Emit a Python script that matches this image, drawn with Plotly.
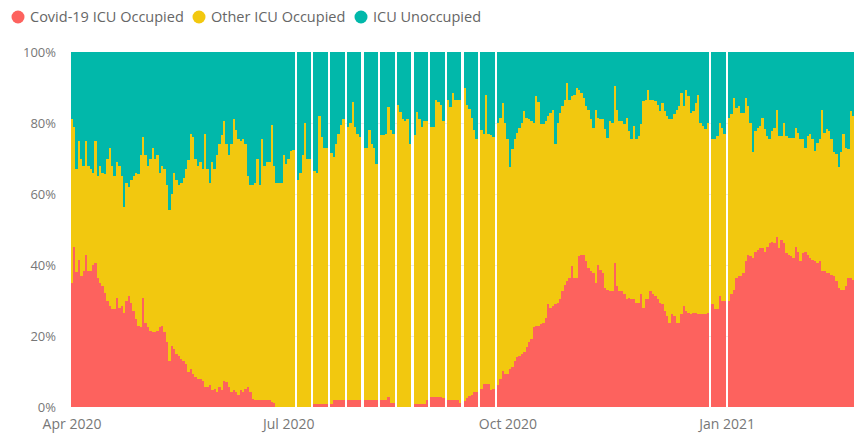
import pandas as pd
import plotly.graph_objects as go

# Daily ICU bed use, 1 Apr 2020 - 23 Feb 2021, as % of all ICU beds.
# None marks days with no report (Saturdays over the summer, 25 Dec, 1 Jan).
start_date = "2020-04-01"

# % of ICU beds occupied by Covid-19 patients
covid_pct = [
    # Apr
    34.9, 45.2, 38.0, 41.4, 36.8, 38.2, 42.8, 38.2, 38.2, 40.0, 40.5, 36.3, 34.9, 34.0, 32.1,
    29.8, 28.4, 27.5, 27.5, 30.7, 27.9, 28.4, 26.5, 29.8, 31.2, 29.3, 27.0, 24.7, 22.8, 22.4,
    # May
    30.7, 23.7, 22.4, 21.4, 21.0, 21.0, 21.4, 22.4, 22.8, 21.0, 18.2, 13.0, 17.2, 16.3, 14.9,
    14.4, 13.5, 13.0, 12.1, 9.8, 10.7, 9.3, 8.4, 7.9, 7.9, 7.4, 5.6, 5.6, 6.1, 4.7, 5.1,
    # Jun
    4.2, 5.6, 4.7, 7.4, 7.0, 5.6, 4.2, 4.7, 4.2, 3.3, 4.7, 4.2, 5.1, 5.6, 4.2,
    2.3, 1.9, 1.9, 1.9, 1.9, 1.9, 1.9, 1.9, 1.5, 1.0, 0.0, 0.0, 0.0, 0.0, 0.0,
    # Jul
    0.0, 0.0, 0.0, None, 0.0, 0.0, 0.0, 0.0, 0.0, 0.0, None, 0.75, 0.75, 0.75, 0.75, 0.75,
    0.75, None, 0.8, 1.9, 1.9, 1.9, 1.9, 1.9, None, 1.9, 1.9, 1.9, 1.9, 1.9, 1.9,
    # Aug
    None, 1.9, 1.9, 1.9, 1.9, 1.9, 1.9, None, 1.9, 1.9, 1.9, 2.8, 1.0, 1.0, None, 0.0,
    0.0, 0.0, 0.0, 0.0, 0.0, None, 0.75, 0.75, 0.75, 0.75, 0.75, 1.9, None, 2.8, 2.8,
    # Sep
    2.8, 2.8, 2.8, 2.5, None, 1.9, 1.9, 1.9, 1.9, 1.9, 1.0, None, 1.6, 2.5, 3.0,
    3.4, 4.1, 4.2, None, 5.1, 6.5, 6.5, 6.5, 4.7, 5.1, None, 6.1, 7.9, 10.2, 9.3,
    # Oct
    9.3, 10.7, 11.2, 13.0, 14.0, 14.4, 14.9, 15.4, 16.8, 18.2, 19.1, 22.4, 22.8, 22.8, 23.3,
    23.7, 25.1, 28.9, 27.9, 28.4, 28.9, 29.3, 30.3, 32.6, 34.5, 35.4, 36.3, 39.6, 36.3, 36.3, 42.4,
    # Nov
    42.8, 42.8, 41.0, 39.1, 38.2, 37.7, 34.9, 40.0, 38.6, 37.7, 33.5, 33.1, 32.6, 32.6, 40.5,
    34.0, 32.6, 32.6, 31.7, 30.3, 30.7, 30.3, 30.3, 29.3, 29.3, 31.7, 27.9, 30.3, 30.3, 32.6,
    # Dec
    31.7, 31.2, 30.3, 29.3, 28.9, 27.0, 25.6, 23.7, 26.1, 25.6, 23.7, 23.7, 26.1, 28.4, 27.0,
    26.5, 26.1, 26.5, 26.5, 26.1, 26.1, 26.1, 26.1, 26.5, None, 28.9, 27.5, 27.5, 31.2, 29.8, 29.8,
    # Jan
    None, 29.8, 31.7, 33.1, 36.3, 36.8, 36.8, 37.7, 41.0, 42.8, 42.4, 41.9, 43.8, 44.2, 44.7,
    44.7, 43.8, 45.2, 46.1, 46.6, 46.1, 48.0, 44.7, 47.0, 46.1, 43.3, 42.8, 42.4, 41.9, 45.2, 43.8,
    # Feb
    41.0, 43.3, 43.8, 42.8, 41.9, 41.4, 41.0, 40.5, 41.0, 38.2, 38.2, 37.7, 37.7, 37.2, 36.8,
    35.4, 33.5, 33.1, 33.1, 34.0, 36.3, 36.3, 35.9,
]

# % of ICU beds occupied by any patient (Covid-19 + other)
occupied_pct = [
    # Apr
    81, 79, 67, 75, 70, 68, 75, 68, 67, 66, 75, 65, 68, 66, 65.5,
    70, 73, 68, 65, 69, 68, 65, 56.3, 63, 62, 64, 65, 66, 65.5, 71,
    # May
    76, 71, 68, 70, 73, 70, 71, 66, 68, 67, 62.5, 55.4, 60, 66, 64,
    62.5, 63, 64.5, 67, 69.6, 77, 76, 70, 68, 69, 67, 77, 67, 63, 69, 67,
    # Jun
    71, 74, 76.5, 80.5, 74, 71, 74, 81, 78, 75.5, 75, 75.5, 74, 65, 62.5,
    62.5, 63, 70, 62.5, 75.5, 68, 69, 69, 79.5, 68, 63, 63, 63, 71, 68.5,
    # Jul
    70, 72, 72.5, None, 64, 66, 71, 80, 70, 70, None, 66.5, 66, 82, 76, 73,
    73, None, 71.5, 70.5, 74, 77, 79.5, 81, None, 79, 80, 86, 79, 77, 76,
    # Aug
    None, 73, 73, 78, 74, 73, 68.5, None, 76.5, 76.5, 77, 84.5, 78, 77, None, 85,
    83, 81, 80.5, 81, 74, None, 76.5, 83, 81, 79, 80.5, 80.5, None, 79, 79,
    # Sep
    86.5, 86, 85, 80.5, None, 86.5, 84.5, 88.5, 86.5, 86.5, 86.5, None, 90, 85, 84,
    81.5, 78, 75.5, None, 78, 77, 88, 77, 76.5, 76, None, 80, 81.5, 85.5, 80,
    # Oct
    75.4, 67.5, 72.6, 75.4, 77.3, 78.7, 80.1, 83.3, 81.5, 81, 80.5, 80, 87.5, 86, 79.6,
    79.6, 80.5, 81.9, 82.9, 83.8, 74, 80, 82.9, 84.7, 86.6, 91.3, 86.6, 87.5, 88, 89.8, 89.4,
    # Nov
    88.5, 87, 84.7, 83.8, 81, 78.7, 83.8, 81.5, 81, 81, 78.2, 75.9, 80.5, 80, 90.3,
    83.8, 80.5, 80.5, 79.6, 81.5, 77.7, 75.4, 79.1, 75.4, 76.3, 79.6, 86.1, 86.6, 89.4, 86.6,
    # Dec
    86.6, 86.1, 85.2, 83.3, 85.7, 83.3, 81.9, 81, 81, 82.4, 83.8, 84.7, 88.5, 84.7, 89.4,
    87.5, 82.9, 83.3, 85.7, 88, 80.1, 79.1, 78.2, 80.1, None, 75.4, 75.4, 76.3, 80.1, 78.7, 76.8,
    # Jan
    None, 81.5, 82.4, 87, 84.3, 84.7, 82.9, 82.9, 87, 84.7, 80.1, 71.7, 77.7, 78.7, 79.1,
    81.5, 78.2, 76.3, 75.4, 77.7, 78.7, 83.8, 76.3, 76.3, 80.1, 76.3, 75.9, 75.9, 75.9, 78.7, 77.3,
    # Feb
    75.4, 75.4, 73.1, 76.3, 76.8, 75.4, 72.2, 74.5, 75.4, 83.8, 77.3, 78.2, 77.7, 75.4, 71.7,
    71.2, 67.5, 71.7, 76.8, 73.1, 72.6, 83.3, 81.9,
]

series_names = ["Covid-19 ICU Occupied", "Other ICU Occupied", "ICU Unoccupied"]
series_colors = ["#FD625E", "#F2C80F", "#01B8AA"]

x_tick_dates = ["2020-04-01", "2020-07-01", "2020-10-01", "2021-01-01"]
x_tick_labels = ["Apr 2020", "Jul 2020", "Oct 2020", "Jan 2021"]
y_tick_values = [0, 20, 40, 60, 80, 100]
y_tick_labels = [f"{v}%" for v in y_tick_values]

# Build the table of reported days and the three stacked shares
dates = pd.date_range(start_date, periods=len(covid_pct), freq="D")
df = pd.DataFrame({"date": dates, "covid": covid_pct, "occupied": occupied_pct}).dropna()
df["other"] = df["occupied"] - df["covid"]
df["unoccupied"] = 100 - df["occupied"]

DAY_MS = 86400000
bar_width = 0.82 * DAY_MS
font_family = "Segoe UI, Open Sans, sans-serif"

W, H = 854, 435
M_L, M_R, M_T, M_B = 71, 0, 52, 28
plot_w, plot_h = W - M_L - M_R, H - M_T - M_B


def px_to_paper(px, py):
    """Convert a pixel position in the figure to paper coordinates."""
    return (px - M_L) / plot_w, (H - M_B - py) / plot_h


fig = go.Figure()
for col, name, color in zip(["covid", "other", "unoccupied"], series_names, series_colors):
    fig.add_trace(go.Bar(
        x=df["date"], y=df[col], name=name, width=bar_width,
        marker=dict(color=color, line=dict(width=0)),
        showlegend=False,
        hovertemplate="%{x|%d %b %Y}<br>" + name + ": %{y:.1f}%<extra></extra>",
    ))

# Compact legend row: round key + label for each series
legend_key_x = [18, 199, 361]
legend_y = 17
for name, color, kx in zip(series_names, series_colors, legend_key_x):
    cx, cy = px_to_paper(kx, legend_y)
    fig.add_shape(
        type="circle", xref="paper", yref="paper",
        xsizemode="pixel", ysizemode="pixel", xanchor=cx, yanchor=cy,
        x0=-6.5, x1=6.5, y0=-6.5, y1=6.5,
        fillcolor=color, line=dict(width=0),
    )
    tx, ty = px_to_paper(kx + 10, legend_y)
    fig.add_annotation(
        x=tx, y=ty, xref="paper", yref="paper",
        xanchor="left", yanchor="middle", showarrow=False,
        text=name, font=dict(family=font_family, size=14.5, color="#666666"),
    )

first = pd.Timestamp(start_date)
x_start = first - pd.Timedelta(hours=10)
x_end = first + pd.Timedelta(days=len(covid_pct) - 1, hours=7)

fig.update_layout(
    width=W, height=H,
    margin=dict(l=M_L, r=M_R, t=M_T, b=M_B),
    barmode="stack",
    showlegend=False,
    paper_bgcolor="white", plot_bgcolor="white",
    font=dict(family=font_family, size=14, color="#666666"),
    xaxis=dict(
        type="date", range=[x_start, x_end],
        tickvals=x_tick_dates, ticktext=x_tick_labels,
        showgrid=False, zeroline=False, showline=False, ticks="",
        tickfont=dict(size=14, color="#777777"),
        ticklabelstandoff=7, automargin=False,
    ),
    yaxis=dict(
        range=[0, 100], tickvals=y_tick_values, ticktext=y_tick_labels,
        showgrid=True, gridcolor="#EBEBEB", gridwidth=1,
        zeroline=False, showline=False, ticks="",
        tickfont=dict(size=13, color="#777777"),
        ticklabelstandoff=14, automargin=False,
    ),
)

fig.write_html("out.html")
